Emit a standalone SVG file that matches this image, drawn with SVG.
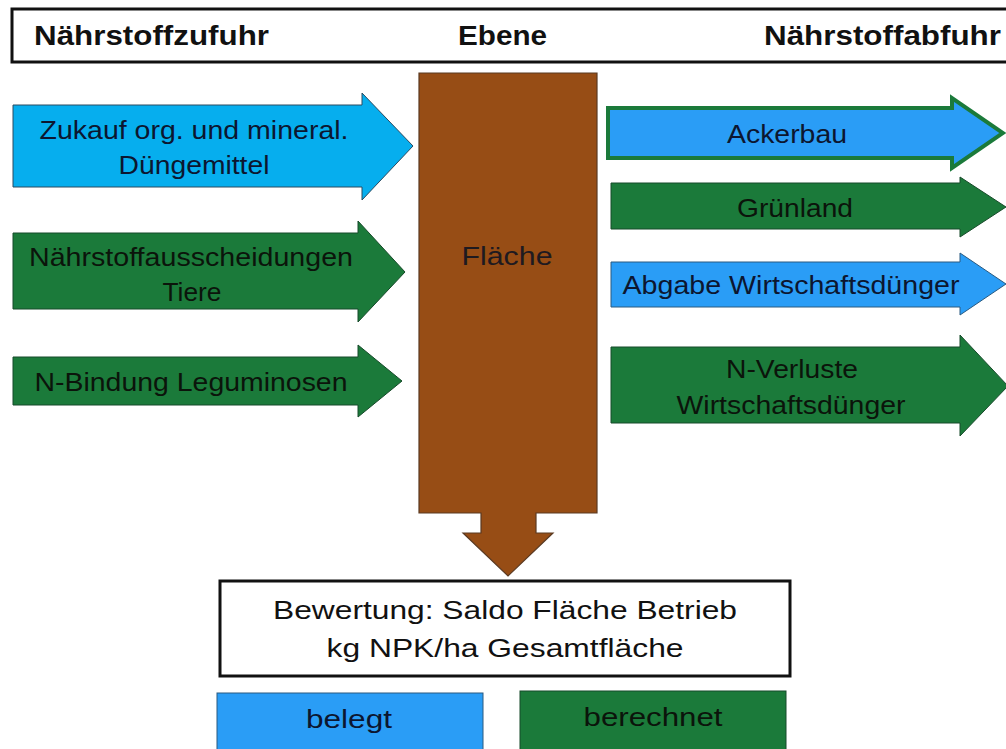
<svg xmlns="http://www.w3.org/2000/svg" width="1006" height="749" viewBox="0 0 1006 749">
<style>
.t{font-family:"Liberation Sans",Arial,sans-serif;font-size:26px;text-anchor:middle;fill:#0c1630}
.tg{font-family:"Liberation Sans",Arial,sans-serif;font-size:26px;text-anchor:middle;fill:#0b140b}
.h{font-family:"Liberation Sans",Arial,sans-serif;font-size:27px;font-weight:bold;fill:#111}
.lb{fill:#06AEEE;stroke:#2a4a60;stroke-width:1}
.bl{fill:#2A9DF6;stroke:#2a5a80;stroke-width:1}
.gr{fill:#1B7A3A;stroke:#174a2a;stroke-width:1}
.br{fill:#974D15;stroke:#5a3a22;stroke-width:1.2}
</style>
<rect width="1006" height="749" fill="#ffffff"/>
<g id="header">
<rect x="12" y="9" width="1010" height="53" fill="#fff" stroke="#111" stroke-width="3"/>
<text class="h" x="34" y="45" textLength="235" lengthAdjust="spacingAndGlyphs">Nährstoffzufuhr</text>
<text class="h" x="458" y="45" textLength="89" lengthAdjust="spacingAndGlyphs">Ebene</text>
<text class="h" x="764" y="45" textLength="237" lengthAdjust="spacingAndGlyphs">Nährstoffabfuhr</text>
</g>
<g id="connectors"></g>
<g id="flaeche">
<path class="br" d="M419,73 H597 V513 H536 V533 H553 L508,576 L463,533 H481 V513 H419 Z"/>
<text class="tg" x="507" y="265" font-size="27" textLength="91" lengthAdjust="spacingAndGlyphs" style="fill:#1e1a20">Fläche</text>
</g>
<g id="zukauf">
<polygon class="lb" points="13,105 362,105 362,93 413,146 362,200 362,187 13,187"/>
<text class="t" x="194" y="139" textLength="309" lengthAdjust="spacingAndGlyphs">Zukauf org. und mineral.</text>
<text class="t" x="194" y="174" textLength="151" lengthAdjust="spacingAndGlyphs">Düngemittel</text>
</g>
<g id="ausscheidungen">
<polygon class="gr" points="13,233 358,233 358,221 405,272 358,322 358,309 13,309"/>
<text class="tg" x="191" y="266" textLength="324" lengthAdjust="spacingAndGlyphs">Nährstoffausscheidungen</text>
<text class="tg" x="192" y="301" textLength="59" lengthAdjust="spacingAndGlyphs">Tiere</text>
</g>
<g id="leguminosen">
<polygon class="gr" points="13,357 358,357 358,345 402,381 358,417 358,405 13,405"/>
<text class="tg" x="191" y="391" textLength="313" lengthAdjust="spacingAndGlyphs">N-Bindung Leguminosen</text>
</g>
<g id="ackerbau">
<polygon points="608,108 952,108 952,98 1003,133 952,168 952,158 608,158" fill="#2A9DF6" stroke="#1B7A3A" stroke-width="4"/>
<text class="t" x="787" y="143" textLength="120" lengthAdjust="spacingAndGlyphs">Ackerbau</text>
</g>
<g id="gruenland">
<polygon class="gr" points="611,183 960,183 960,177 1006,207 960,237 960,229 611,229"/>
<text class="tg" x="795" y="217" textLength="116" lengthAdjust="spacingAndGlyphs">Grünland</text>
</g>
<g id="abgabe">
<polygon class="bl" points="611,262 960,262 960,253 1006,284 960,315 960,307 611,307"/>
<text class="t" x="791" y="294" textLength="337" lengthAdjust="spacingAndGlyphs">Abgabe Wirtschaftsdünger</text>
</g>
<g id="verluste">
<polygon class="gr" points="611,347 960,347 960,335 1008,386 960,436 960,423 611,423"/>
<text class="tg" x="792" y="378" textLength="132" lengthAdjust="spacingAndGlyphs">N-Verluste</text>
<text class="tg" x="791" y="414" textLength="229" lengthAdjust="spacingAndGlyphs">Wirtschaftsdünger</text>
</g>
<g id="bewertung">
<rect x="220" y="581" width="570" height="95" fill="#fff" stroke="#111" stroke-width="3"/>
<text class="tg" x="505" y="619" font-size="25" textLength="464" lengthAdjust="spacingAndGlyphs" style="fill:#111">Bewertung: Saldo Fläche Betrieb</text>
<text class="tg" x="505" y="657" font-size="25" textLength="357" lengthAdjust="spacingAndGlyphs" style="fill:#111">kg NPK/ha Gesamtfläche</text>
</g>
<g id="belegt">
<rect class="bl" x="217" y="693" width="266" height="62"/>
<text class="t" x="349" y="728" textLength="86" lengthAdjust="spacingAndGlyphs">belegt</text>
</g>
<g id="berechnet">
<rect class="gr" x="520" y="691" width="266" height="64"/>
<text class="tg" x="653" y="726" textLength="139" lengthAdjust="spacingAndGlyphs">berechnet</text>
</g>
</svg>
